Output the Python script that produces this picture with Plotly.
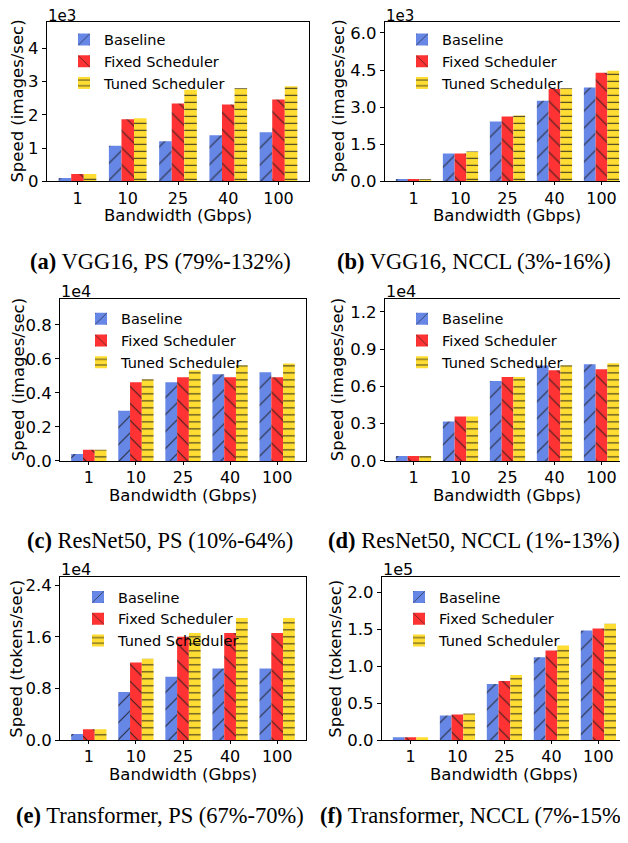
import plotly.graph_objects as go

# ---------------- data ----------------
bandwidth = ["1", "10", "25", "40", "100"]
series_names = ["Baseline", "Fixed Scheduler", "Tuned Scheduler"]

vgg_ps_baseline = [100, 1070, 1210, 1390, 1480]
vgg_ps_fixed = [220, 1870, 2340, 2310, 2460]
vgg_ps_tuned = [220, 1900, 2760, 2800, 2860]

vgg_nccl_baseline = [100, 1130, 2420, 3260, 3800]
vgg_nccl_fixed = [100, 1130, 2620, 3730, 4390]
vgg_nccl_tuned = [90, 1210, 2660, 3760, 4470]

resnet_ps_baseline = [410, 2950, 4630, 5100, 5210]
resnet_ps_fixed = [660, 4630, 4920, 4920, 4920]
resnet_ps_tuned = [660, 4810, 5330, 5620, 5730]

resnet_nccl_baseline = [400, 3170, 6430, 7670, 7780]
resnet_nccl_fixed = [400, 3570, 6750, 7300, 7380]
resnet_nccl_tuned = [400, 3570, 6750, 7700, 7860]

transformer_ps_baseline = [950, 7450, 9800, 11100, 11100]
transformer_ps_fixed = [1700, 12000, 16000, 16600, 16600]
transformer_ps_tuned = [1700, 12600, 16600, 18900, 18900]

transformer_nccl_baseline = [4000, 33300, 76000, 112000, 148000]
transformer_nccl_fixed = [4000, 34700, 80000, 121300, 150700]
transformer_nccl_tuned = [4000, 36000, 88000, 128000, 157300]

scales = [1e3, 1e3, 1e4, 1e4, 1e4, 1e5]
scale_labels = ["1e3", "1e3", "1e4", "1e4", "1e4", "1e5"]
ytick_labels_a = ["0", "1", "2", "3", "4"]
ytick_labels_b = ["0.0", "1.5", "3.0", "4.5", "6.0"]
ytick_labels_c = ["0.0", "0.2", "0.4", "0.6", "0.8"]
ytick_labels_d = ["0.0", "0.3", "0.6", "0.9", "1.2"]
ytick_labels_e = ["0.0", "0.8", "1.6", "2.4"]
ytick_labels_f = ["0.0", "0.5", "1.0", "1.5", "2.0"]
ymax_scaled = [4.8, 6.45, 0.95, 1.30, 2.52, 2.2]
ytitles = ["Speed (images/sec)", "Speed (images/sec)", "Speed (images/sec)",
           "Speed (images/sec)", "Speed (tokens/sec)", "Speed (tokens/sec)"]
xtitle = "Bandwidth (Gbps)"
caption_tags = ["(a)", "(b)", "(c)", "(d)", "(e)", "(f)"]
caption_texts = ["VGG16, PS (79%-132%)", "VGG16, NCCL (3%-16%)",
                 "ResNet50, PS (10%-64%)", "ResNet50, NCCL (1%-13%)",
                 "Transformer, PS (67%-70%)", "Transformer, NCCL (7%-15%)"]

panel_series = [
    (vgg_ps_baseline, vgg_ps_fixed, vgg_ps_tuned),
    (vgg_nccl_baseline, vgg_nccl_fixed, vgg_nccl_tuned),
    (resnet_ps_baseline, resnet_ps_fixed, resnet_ps_tuned),
    (resnet_nccl_baseline, resnet_nccl_fixed, resnet_nccl_tuned),
    (transformer_ps_baseline, transformer_ps_fixed, transformer_ps_tuned),
    (transformer_nccl_baseline, transformer_nccl_fixed, transformer_nccl_tuned),
]
panel_yticklabels = [ytick_labels_a, ytick_labels_b, ytick_labels_c,
                     ytick_labels_d, ytick_labels_e, ytick_labels_f]

# ---------------- layout geometry (page pixels) ----------------
PAGE_W, PAGE_H = 628, 843
OFF = 8  # default body margin of the page (all sides)
W, H = PAGE_W - 2 * OFF, PAGE_H - 2 * OFF
boxes = [  # x0, x1, y0(top), y1(bottom)
    (46.7, 309.3, 21.0, 182.7),
    (384.7, 620.0, 21.0, 182.7),
    (60.0, 306.0, 302.3, 466.0),
    (384.7, 620.0, 302.3, 466.0),
    (60.0, 306.0, 584.0, 749.0),
    (381.7, 620.0, 584.0, 749.0),
]
xranges = [(-0.6125, 4.6125), (-0.6125, 4.394), (-0.6125, 4.6125),
           (-0.6125, 4.394), (-0.6125, 4.6125), (-0.6125, 4.46)]
right_frame = [True, False, True, False, True, False]
ytitle_x = [18, 339, 18, 337, 17, 336]
xtitle_y = [217.5, 217.5, 501, 501, 783.5, 783.5]
exp_pos = [(47, 15.5), (385, 15.5), (60, 294), (385, 294), (60, 576), (382, 576)]
exp_size = [15, 15, 16, 16, 16, 16]
caption_center = [(160, 264), (474, 264), (160, 547), (474, 547), (160, 825), (474, 825)]
legend_text_x = [103, 441, 120, 441, 117, 438]
legend_row0 = [39, 39, 322, 322, 604, 604]
legend_row = 22
legend_text_offset = 39

colors = ["#6787E7", "#FF3333", "#FFDD33"]
patterns = [
    dict(shape="/", size=12, solidity=0.09, fgcolor="#1a1a1a", fgopacity=0.85),
    dict(shape="\\", size=12, solidity=0.09, fgcolor="#1a1a1a", fgopacity=0.85),
    dict(shape="-", size=7, solidity=0.16, fgcolor="#1a1a1a", fgopacity=0.85),
]

FONT = "DejaVu Sans"
SERIF = "Liberation Serif"


def px(x):
    return (x - OFF) / W


def py(y):
    return 1 - (y - OFF) / H


fig = go.Figure()
layout = dict(
    width=W, height=H, margin=dict(l=0, r=0, t=0, b=0),
    paper_bgcolor="white", plot_bgcolor="white", showlegend=True,
    barmode="group", bargap=0.25, bargroupgap=0.0,
    font=dict(family=FONT, size=17, color="black"),
)
annotations = []
legend_idx = 0

for i in range(6):
    n = "" if i == 0 else str(i + 1)
    xa, ya = "x" + n, "y" + n
    x0, x1, y0, y1 = boxes[i]
    scale = scales[i]
    tl = panel_yticklabels[i]
    tv = [float(t) * scale for t in tl]
    for s in range(3):
        legend_idx += 1
        lg = "legend" if legend_idx == 1 else "legend" + str(legend_idx)
        fig.add_trace(go.Bar(
            x=bandwidth, y=panel_series[i][s], name=series_names[s],
            xaxis=xa, yaxis=ya, legend=lg, offsetgroup=str(s), showlegend=True,
            marker=dict(color=colors[s], line=dict(width=0), pattern=patterns[s]),
        ))
        layout[lg] = dict(
            x=px(legend_text_x[i] - legend_text_offset),
            y=py(legend_row0[i] + s * legend_row),
            xanchor="left", yanchor="middle",
            bgcolor="rgba(0,0,0,0)", borderwidth=0,
            font=dict(family=FONT, size=14.5, color="black"),
            itemclick=False, itemdoubleclick=False,
        )
    layout["xaxis" + n] = dict(
        domain=[max(0, px(x0)), min(1, px(x1))], anchor=ya, type="category",
        range=list(xranges[i]), showline=True, mirror=True, linecolor="black",
        linewidth=1, ticks="outside", ticklen=3, tickcolor="black",
        ticklabelstandoff=-1,
        tickfont=dict(family=FONT, size=16), showgrid=False, zeroline=False,
    )
    layout["yaxis" + n] = dict(
        domain=[py(y1), py(y0)], anchor=xa, range=[0, ymax_scaled[i] * scale],
        tickvals=tv, ticktext=tl, showline=True, mirror=right_frame[i],
        linecolor="black", linewidth=1, ticks="outside", ticklen=4,
        tickcolor="black", tickfont=dict(family=FONT, size=16.5),
        showgrid=False, zeroline=False,
    )
    # y title
    annotations.append(dict(
        text=ytitles[i], xref="paper", yref="paper", x=px(ytitle_x[i]),
        y=py((y0 + y1) / 2), textangle=-90, showarrow=False,
        xanchor="center", yanchor="middle", font=dict(family=FONT, size=16.5),
    ))
    # x title
    annotations.append(dict(
        text=xtitle, xref=xa, yref="paper", x=2, y=py(xtitle_y[i]),
        showarrow=False, xanchor="center", yanchor="middle", borderpad=0,
        font=dict(family=FONT, size=16.5),
    ))
    # exponent label
    ex, ey = exp_pos[i]
    annotations.append(dict(
        text=scale_labels[i], xref="paper", yref="paper", x=px(ex), y=py(ey),
        showarrow=False, xanchor="left", yanchor="middle", borderpad=0,
        font=dict(family=FONT, size=exp_size[i]),
    ))
    # caption
    cx, cy = caption_center[i]
    annotations.append(dict(
        text="<b>" + caption_tags[i] + "</b> " + caption_texts[i],
        xref="paper", yref="paper", x=px(cx), y=py(cy), showarrow=False,
        xanchor="center", yanchor="middle", borderpad=0,
        font=dict(family=SERIF, size=22.5),
    ))

layout["annotations"] = annotations
fig.update_layout(**layout)
fig.write_html("out.html")
